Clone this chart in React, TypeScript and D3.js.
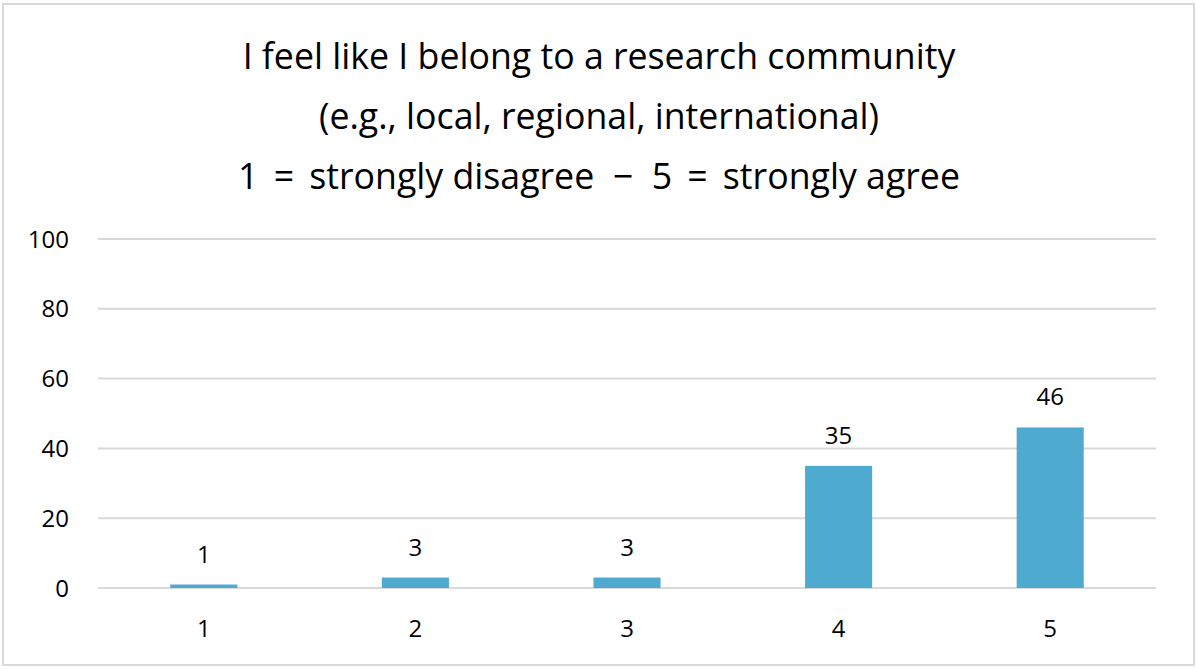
import React from "react";
import * as d3 from "d3";

const categories = ["1", "2", "3", "4", "5"];
const values = [1, 3, 3, 35, 46];
const yTicks = [0, 20, 40, 60, 80, 100];
const titleLines = [
  "I feel like I belong to a research community",
  "(e.g., local, regional, international)",
  "1 \u2009=\u2009 strongly disagree  \u2212  5 \u2009=\u2009 strongly agree",
];

const W = 1197;
const H = 669;
const FONT = "'Open Sans', sans-serif";

export default function App() {
  const x = d3.scaleBand<string>().domain(categories).range([98, 1156]).padding(0);
  const y = d3.scaleLinear().domain([0, 100]).range([588, 239]);
  const barW = x.bandwidth() * 0.317;

  return (
    <svg
      width={W}
      height={H}
      style={{ position: "absolute", left: 0, top: 0, background: "#fff" }}
      fontFamily={FONT}
    >
      <rect x={0} y={0} width={W} height={H} fill="#fff" />
      <rect x={3} y={4} width={1191} height={661} fill="#fff" stroke="#d9d9d9" strokeWidth={2} />
      {titleLines.map((t, i) => (
        <text
          key={i}
          x={599}
          y={69 + i * 60}
          textAnchor="middle"
          fontSize={35.7}
          fill="#000"
          xmlSpace="preserve"
          style={{ whiteSpace: "pre" }}
        >
          {t}
        </text>
      ))}
      {yTicks.map((t) => (
        <g key={t}>
          <line x1={98} x2={1156} y1={y(t)} y2={y(t)} stroke="#d9d9d9" strokeWidth={2} />
          <text x={69} y={y(t) + 8.5} textAnchor="end" fontSize={24} fill="#000">
            {t}
          </text>
        </g>
      ))}
      {categories.map((c, i) => {
        const cx = (x(c) ?? 0) + x.bandwidth() / 2;
        return (
          <g key={c}>
            <rect
              x={cx - barW / 2}
              y={y(values[i])}
              width={barW}
              height={y(0) - y(values[i])}
              fill="#4FAACF"
            />
            <text x={cx} y={y(values[i]) - 22} textAnchor="middle" fontSize={24} fill="#000">
              {values[i]}
            </text>
            <text x={cx} y={637} textAnchor="middle" fontSize={24} fill="#000">
              {c}
            </text>
          </g>
        );
      })}
    </svg>
  );
}
